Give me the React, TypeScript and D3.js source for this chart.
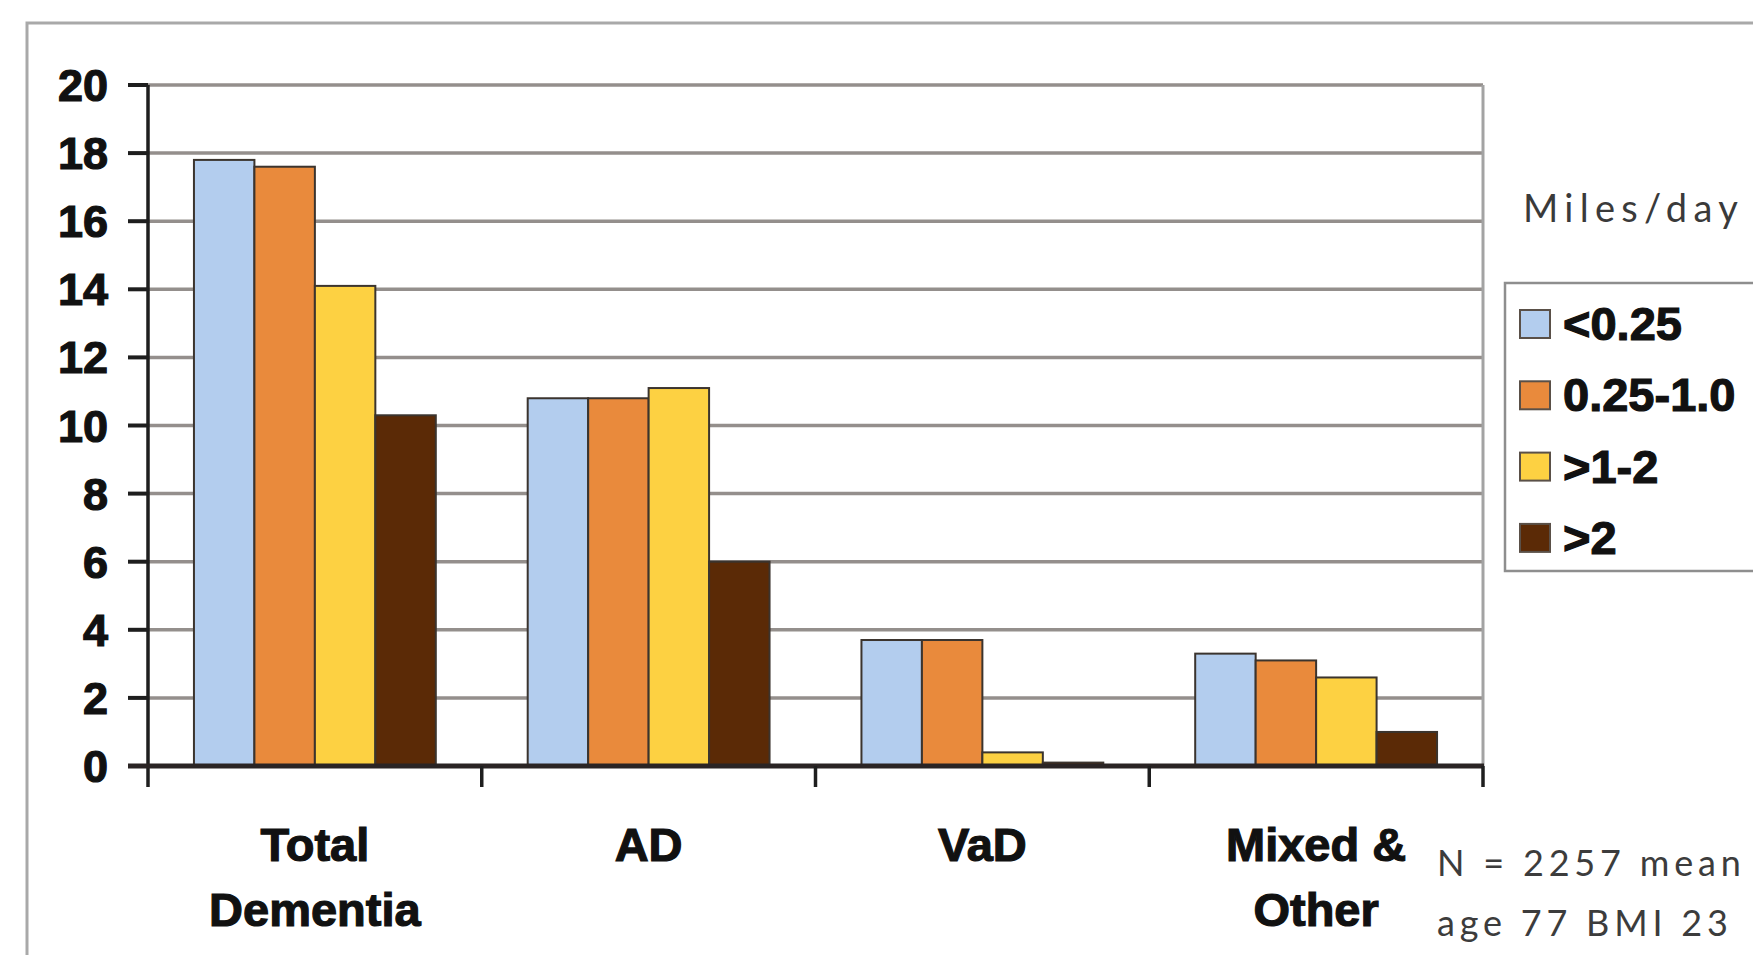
import React from "react";
import * as d3 from "d3";

// Dementia incidence by distance walked per day
const categories = ["Total Dementia", "AD", "VaD", "Mixed & Other"];
const categoryLines = [["Total", "Dementia"], ["AD"], ["VaD"], ["Mixed &", "Other"]];
const seriesNames = ["<0.25", "0.25-1.0", ">1-2", ">2"];
const under025 = [17.8, 10.8, 3.7, 3.3];
const from025to1 = [17.6, 10.8, 3.7, 3.1];
const over1to2 = [14.1, 11.1, 0.4, 2.6];
const over2 = [10.3, 6.0, 0.1, 1.0];
const yTicks = [0, 2, 4, 6, 8, 10, 12, 14, 16, 18, 20];
const seriesColors = ["#b3cdee", "#e98a3c", "#fdd142", "#5b2a06"];
const legendTitle = "Miles/day";
const noteLines = ["N = 2257 mean", "age 77 BMI 23"];

const seriesValues = [under025, from025to1, over1to2, over2];

const W = 1753;
const H = 955;
const boldFont = "'Liberation Sans', Arial, sans-serif";
const lightFont = "Lato, 'Open Sans', sans-serif";

export default function App() {
  const x = d3.scaleBand<string>().domain(categories).range([148, 1483]).padding(0);
  const inner = d3
    .scaleBand<string>()
    .domain(seriesNames)
    .range([0, x.bandwidth()])
    .paddingInner(0)
    .paddingOuter(0.76);
  const y = d3.scaleLinear().domain([0, 20]).range([766, 85]);

  const plotLeft = 148;
  const plotRight = 1483;
  const y0 = y(0);

  return (
    <svg
      width={W}
      height={H}
      viewBox={`0 0 ${W} ${H}`}
      style={{ position: "absolute", left: 0, top: 0, background: "#fff" }}
    >
      <rect x={0} y={0} width={W} height={H} fill="#fff" />
      {/* outer frame */}
      <path d={`M27,${H} L27,23 L${W},23`} fill="none" stroke="#a9a9a9" strokeWidth={3} />

      {/* gridlines */}
      {yTicks
        .filter((t) => t > 0)
        .map((t) => (
          <line
            key={`g${t}`}
            x1={plotLeft}
            x2={plotRight}
            y1={y(t)}
            y2={y(t)}
            stroke="#948f8c"
            strokeWidth={3.5}
          />
        ))}
      {/* right border of plot */}
      <line x1={plotRight} x2={plotRight} y1={y(20)} y2={y0} stroke="#a3a3a3" strokeWidth={3} />

      {/* bars */}
      {categories.map((c, ci) => (
        <g key={c} transform={`translate(${x(c)},0)`}>
          {seriesNames.map((s, si) => {
            const v = seriesValues[si][ci];
            return (
              <rect
                key={s}
                x={inner(s)}
                y={y(v)}
                width={inner.bandwidth()}
                height={y0 - y(v)}
                fill={seriesColors[si]}
                stroke="#3b342e"
                strokeWidth={2}
              />
            );
          })}
        </g>
      ))}

      {/* y axis */}
      <line x1={plotLeft} x2={plotLeft} y1={y(20)} y2={y0 + 21} stroke="#1e1e1e" strokeWidth={3.5} />
      {yTicks.map((t) => (
        <g key={`t${t}`}>
          <line x1={128} x2={plotLeft} y1={y(t)} y2={y(t)} stroke="#1e1e1e" strokeWidth={4} />
          <text
            x={108}
            y={y(t) + 16}
            textAnchor="end"
            fontFamily={boldFont}
            fontWeight="bold"
            fontSize={45}
            fill="#111"
            stroke="#111"
            strokeWidth={1.2}
          >
            {t}
          </text>
        </g>
      ))}

      {/* x axis */}
      <line x1={128} x2={plotRight + 1} y1={y0} y2={y0} stroke="#2a2424" strokeWidth={5} />
      {categories.map((c) => (
        <line
          key={`sep${c}`}
          x1={(x(c) as number) + x.bandwidth()}
          x2={(x(c) as number) + x.bandwidth()}
          y1={y0}
          y2={y0 + 21}
          stroke="#1e1e1e"
          strokeWidth={3.5}
        />
      ))}
      {categories.map((c, ci) => (
        <text
          key={`lab${c}`}
          textAnchor="middle"
          fontFamily={boldFont}
          fontWeight="bold"
          fontSize={47}
          fill="#111"
          stroke="#111"
          strokeWidth={1.2}
        >
          {categoryLines[ci].map((line, li) => (
            <tspan key={li} x={(x(c) as number) + x.bandwidth() / 2} y={861 + li * 65}>
              {line}
            </tspan>
          ))}
        </text>
      ))}

      {/* legend */}
      <text x={1523} y={222} fontFamily={lightFont} fontSize={38} letterSpacing={6.3} fill="#3a3a3a">
        {legendTitle}
      </text>
      <rect x={1505} y={283} width={260} height={288} fill="#fff" stroke="#8e8e8e" strokeWidth={2.5} />
      {seriesNames.map((s, si) => {
        const cy = 324 + si * 71.3;
        return (
          <g key={`leg${s}`}>
            <rect
              x={1520}
              y={cy - 14}
              width={30}
              height={28}
              fill={seriesColors[si]}
              stroke="#5a5048"
              strokeWidth={2}
            />
            <text
              x={1563}
              y={cy + 16}
              fontFamily={boldFont}
              fontWeight="bold"
              fontSize={47}
              fill="#111"
              stroke="#111"
              strokeWidth={1.2}
            >
              {s}
            </text>
          </g>
        );
      })}

      {/* sample note */}
      {noteLines.map((line, i) => (
        <text
          key={`n${i}`}
          x={1437}
          y={876 + i * 60}
          fontFamily={lightFont}
          fontSize={36}
          letterSpacing={4.8}
          fill="#3c3c3c"
        >
          {line}
        </text>
      ))}
    </svg>
  );
}
